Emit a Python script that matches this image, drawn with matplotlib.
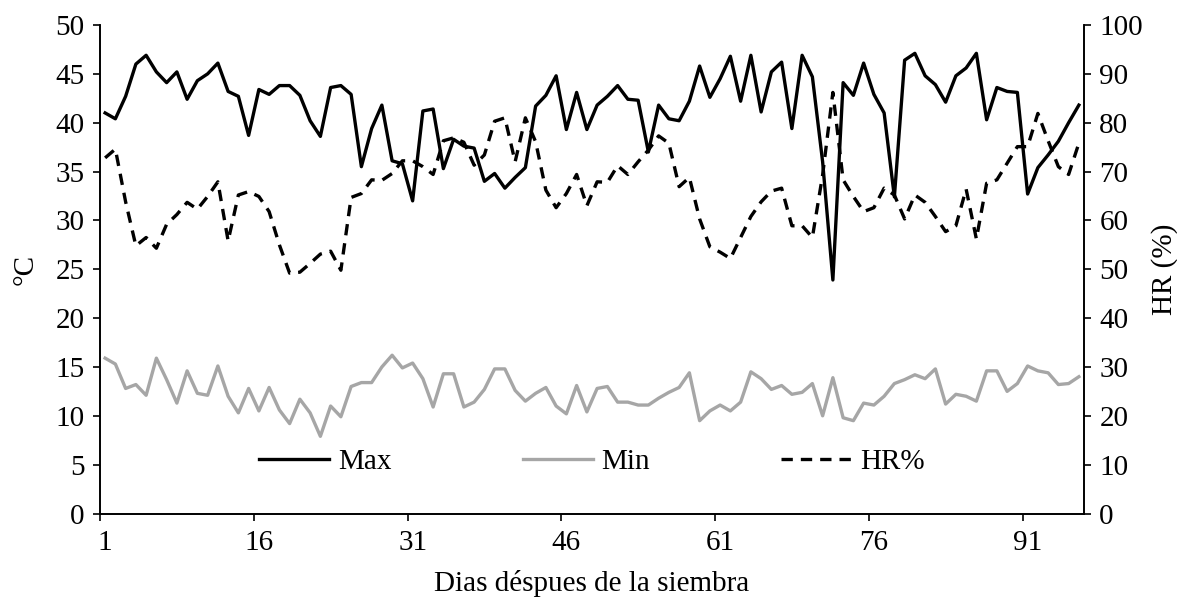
import numpy as np
import matplotlib
matplotlib.use('Agg')
import matplotlib.pyplot as plt
from matplotlib.ticker import FixedLocator, NullFormatter

plt.rcParams['font.family'] = ['Liberation Serif', 'DejaVu Serif']

## data (one value per day)
tmax = [41.0, 40.4, 42.7, 46.0, 46.9, 45.2, 44.1, 45.2, 42.4, 44.3,
        45.0, 46.1, 43.2, 42.7, 38.7, 43.4, 42.9, 43.8, 43.8, 42.8,
        40.2, 38.6, 43.6, 43.8, 42.9, 35.5, 39.4, 41.8, 36.1, 35.8,
        32.0, 41.2, 41.4, 35.3, 38.3, 37.6, 37.4, 34.0, 34.8, 33.3,
        34.4, 35.4, 41.7, 42.8, 44.8, 39.3, 43.1, 39.3, 41.8, 42.7,
        43.8, 42.4, 42.3, 37.0, 41.8, 40.4, 40.2, 42.2, 45.8, 42.6,
        44.5, 46.8, 42.2, 46.9, 41.1, 45.2, 46.2, 39.4, 46.9, 44.7,
        36.0, 23.9, 44.1, 42.8, 46.1, 42.9, 41.0, 32.4, 46.4, 47.1,
        44.8, 43.9, 42.1, 44.8, 45.6, 47.1, 40.3, 43.6, 43.2, 43.1,
        32.7, 35.4, 36.7, 38.1, 40.0, 41.8]

tmin = [15.9, 15.3, 12.8, 13.2, 12.1, 15.9, 13.7, 11.3, 14.6, 12.3,
        12.1, 15.1, 12.0, 10.3, 12.8, 10.5, 12.9, 10.6, 9.2, 11.7,
        10.3, 7.9, 11.0, 9.9, 13.0, 13.4, 13.4, 15.0, 16.2, 14.9,
        15.4, 13.8, 10.9, 14.3, 14.3, 10.9, 11.4, 12.7, 14.8, 14.8,
        12.6, 11.5, 12.3, 12.9, 11.0, 10.2, 13.1, 10.4, 12.8, 13.0,
        11.4, 11.4, 11.1, 11.1, 11.8, 12.4, 12.9, 14.4, 9.5, 10.5,
        11.1, 10.5, 11.4, 14.5, 13.8, 12.7, 13.1, 12.2, 12.4, 13.3,
        10.0, 13.9, 9.8, 9.5, 11.3, 11.1, 12.0, 13.3, 13.7, 14.2,
        13.8, 14.8, 11.2, 12.2, 12.0, 11.5, 14.6, 14.6, 12.5, 13.3,
        15.1, 14.6, 14.4, 13.2, 13.3, 14.0]

hr = [72.8, 74.6, 63.8, 54.8, 56.5, 54.3, 59.2, 61.2, 63.7, 62.3,
      64.9, 67.9, 55.8, 65.2, 65.9, 64.9, 61.8, 55.0, 49.2, 49.4,
      51.2, 53.1, 53.7, 49.8, 64.7, 65.5, 68.3, 68.2, 69.6, 72.2,
      72.2, 71.0, 69.4, 76.3, 76.9, 76.0, 71.3, 73.4, 80.3, 81.0,
      72.0, 81.0, 76.1, 66.2, 62.6, 65.5, 69.4, 63.0, 67.9, 67.8,
      71.2, 69.4, 72.0, 74.4, 77.3, 75.8, 66.9, 68.8, 60.3, 54.6,
      53.5, 52.2, 56.5, 60.8, 63.8, 66.0, 66.6, 58.9, 58.9, 56.5,
      69.3, 86.2, 68.3, 64.9, 61.8, 62.6, 66.6, 65.2, 60.3, 65.2,
      63.7, 60.8, 57.7, 58.9, 66.4, 56.2, 67.6, 68.3, 71.7, 75.1,
      75.1, 81.9, 76.3, 71.0, 69.4, 75.8]

dias = np.arange(1, len(tmax) + 1)
tick_labels = [1, 16, 31, 46, 61, 76, 91]
fs = 21

fig = plt.figure(figsize=(11.77, 6.02), dpi=100)
ax = fig.add_axes([100 / 1177, 1 - 513.5 / 602, 984 / 1177, 488.5 / 602])
ax2 = ax.twinx()

l1, = ax.plot(dias, tmax, color='black', lw=2.4, label='Max')
l2, = ax.plot(dias, tmin, color='#a6a6a6', lw=2.4, label='Min')
l3, = ax2.plot(dias, hr, color='black', lw=2.4, ls=(0, (3.4, 2.4)), label='HR%')

ax.set_xlim(0.5, len(dias) + 0.5)
ax.set_ylim(0, 50)
ax2.set_ylim(0, 100)
ax.set_yticks(np.arange(0, 51, 5))
ax2.set_yticks(np.arange(0, 101, 10))

# ticks between days, labels centred on the days
ax.xaxis.set_major_locator(FixedLocator([t - 0.5 for t in tick_labels]))
ax.xaxis.set_major_formatter(NullFormatter())
ax.xaxis.set_minor_locator(FixedLocator(tick_labels))
ax.set_xticklabels([str(t) for t in tick_labels], minor=True)
ax.tick_params(axis='x', which='major', length=5, width=1.2, direction='out')
ax.tick_params(axis='x', which='minor', length=0, pad=12, labelsize=fs)
ax.tick_params(axis='y', length=5, width=1.2, direction='out', pad=6, labelsize=fs)
ax2.tick_params(axis='y', length=5, width=1.2, direction='out', pad=6, labelsize=fs)

for a in (ax, ax2):
    a.spines['top'].set_visible(False)
    for s in ('left', 'right', 'bottom'):
        a.spines[s].set_linewidth(1.2)

ax.set_xlabel('Dias déspues de la siembra', fontsize=fs, labelpad=10)
ax.set_ylabel('°C', fontsize=fs, labelpad=12)
ax2.set_ylabel('HR (%)', fontsize=fs, labelpad=6)

ax2.legend(handles=[l1, l2, l3], loc='center', bbox_to_anchor=(0.5, 0.105),
           ncol=3, frameon=False, fontsize=fs, handlelength=2.4,
           handletextpad=0.3, columnspacing=4.5)

fig.savefig('out.png', dpi=100)
